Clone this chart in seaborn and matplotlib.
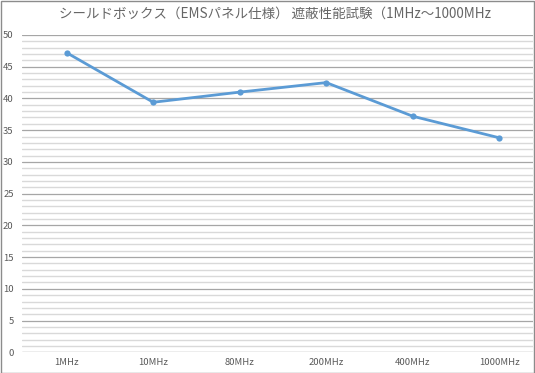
import matplotlib
matplotlib.use("Agg")
import matplotlib.pyplot as plt
import seaborn as sns
import pandas as pd
from matplotlib.ticker import MultipleLocator
from matplotlib.patches import Rectangle

categories = ["1MHz", "10MHz", "80MHz", "200MHz", "400MHz", "1000MHz"]
values = [47.2, 39.4, 41.0, 42.5, 37.2, 33.8]
yticks = [0, 5, 10, 15, 20, 25, 30, 35, 40, 45, 50]
title = "シールドボックス（EMSパネル仕様） 遮蔽性能試験（1MHz～1000MHz"

sns.set_theme(style="white")
plt.rcParams['font.family'] = ['Noto Sans CJK JP', 'DejaVu Sans']

df = pd.DataFrame({"freq": categories, "val": values})

fig = plt.figure(figsize=(5.35, 3.73), dpi=100)
ax = fig.add_axes([22/535, (373-352.3)/373, (533-22)/535, (352.3-35)/373])

ax.set_ylim(0, 50)
ax.set_xlim(-0.517, 5.39)
ax.yaxis.set_minor_locator(MultipleLocator(1))
ax.set_yticks(yticks)
ax.grid(which="minor", axis="y", color="#d9d9d9", lw=1.0)
ax.grid(which="major", axis="y", color="#a6a6a6", lw=0.9)
ax.grid(which="major", axis="x", visible=False)
ax.set_axisbelow(True)

sns.lineplot(data=df, x="freq", y="val", ax=ax, sort=False, color="#5b9bd5",
             lw=2.0, marker="o", markersize=4.5, markeredgewidth=0, zorder=3)

ax.set_xlabel("")
ax.set_ylabel("")
for s in ax.spines.values():
    s.set_visible(False)
ax.tick_params(axis="y", which="both", length=0, pad=6, labelsize=6.8, labelcolor="#595959")
ax.tick_params(axis="x", which="both", length=0, pad=4, labelsize=6.8, labelcolor="#595959")
ax.axhline(0, color="#d9d9d9", lw=1.0, zorder=1)

fig.text(0.514, 1 - 14/373, title, ha="center", va="center",
         fontsize=9.7, color="#666666")
fig.patches.append(Rectangle((0.5/535, 0.5/373), 1 - 1.5/535, 1 - 1.5/373, transform=fig.transFigure,
                             fill=False, edgecolor="#8c8c8c", lw=1.0))

fig.savefig("out.png", dpi=100)
